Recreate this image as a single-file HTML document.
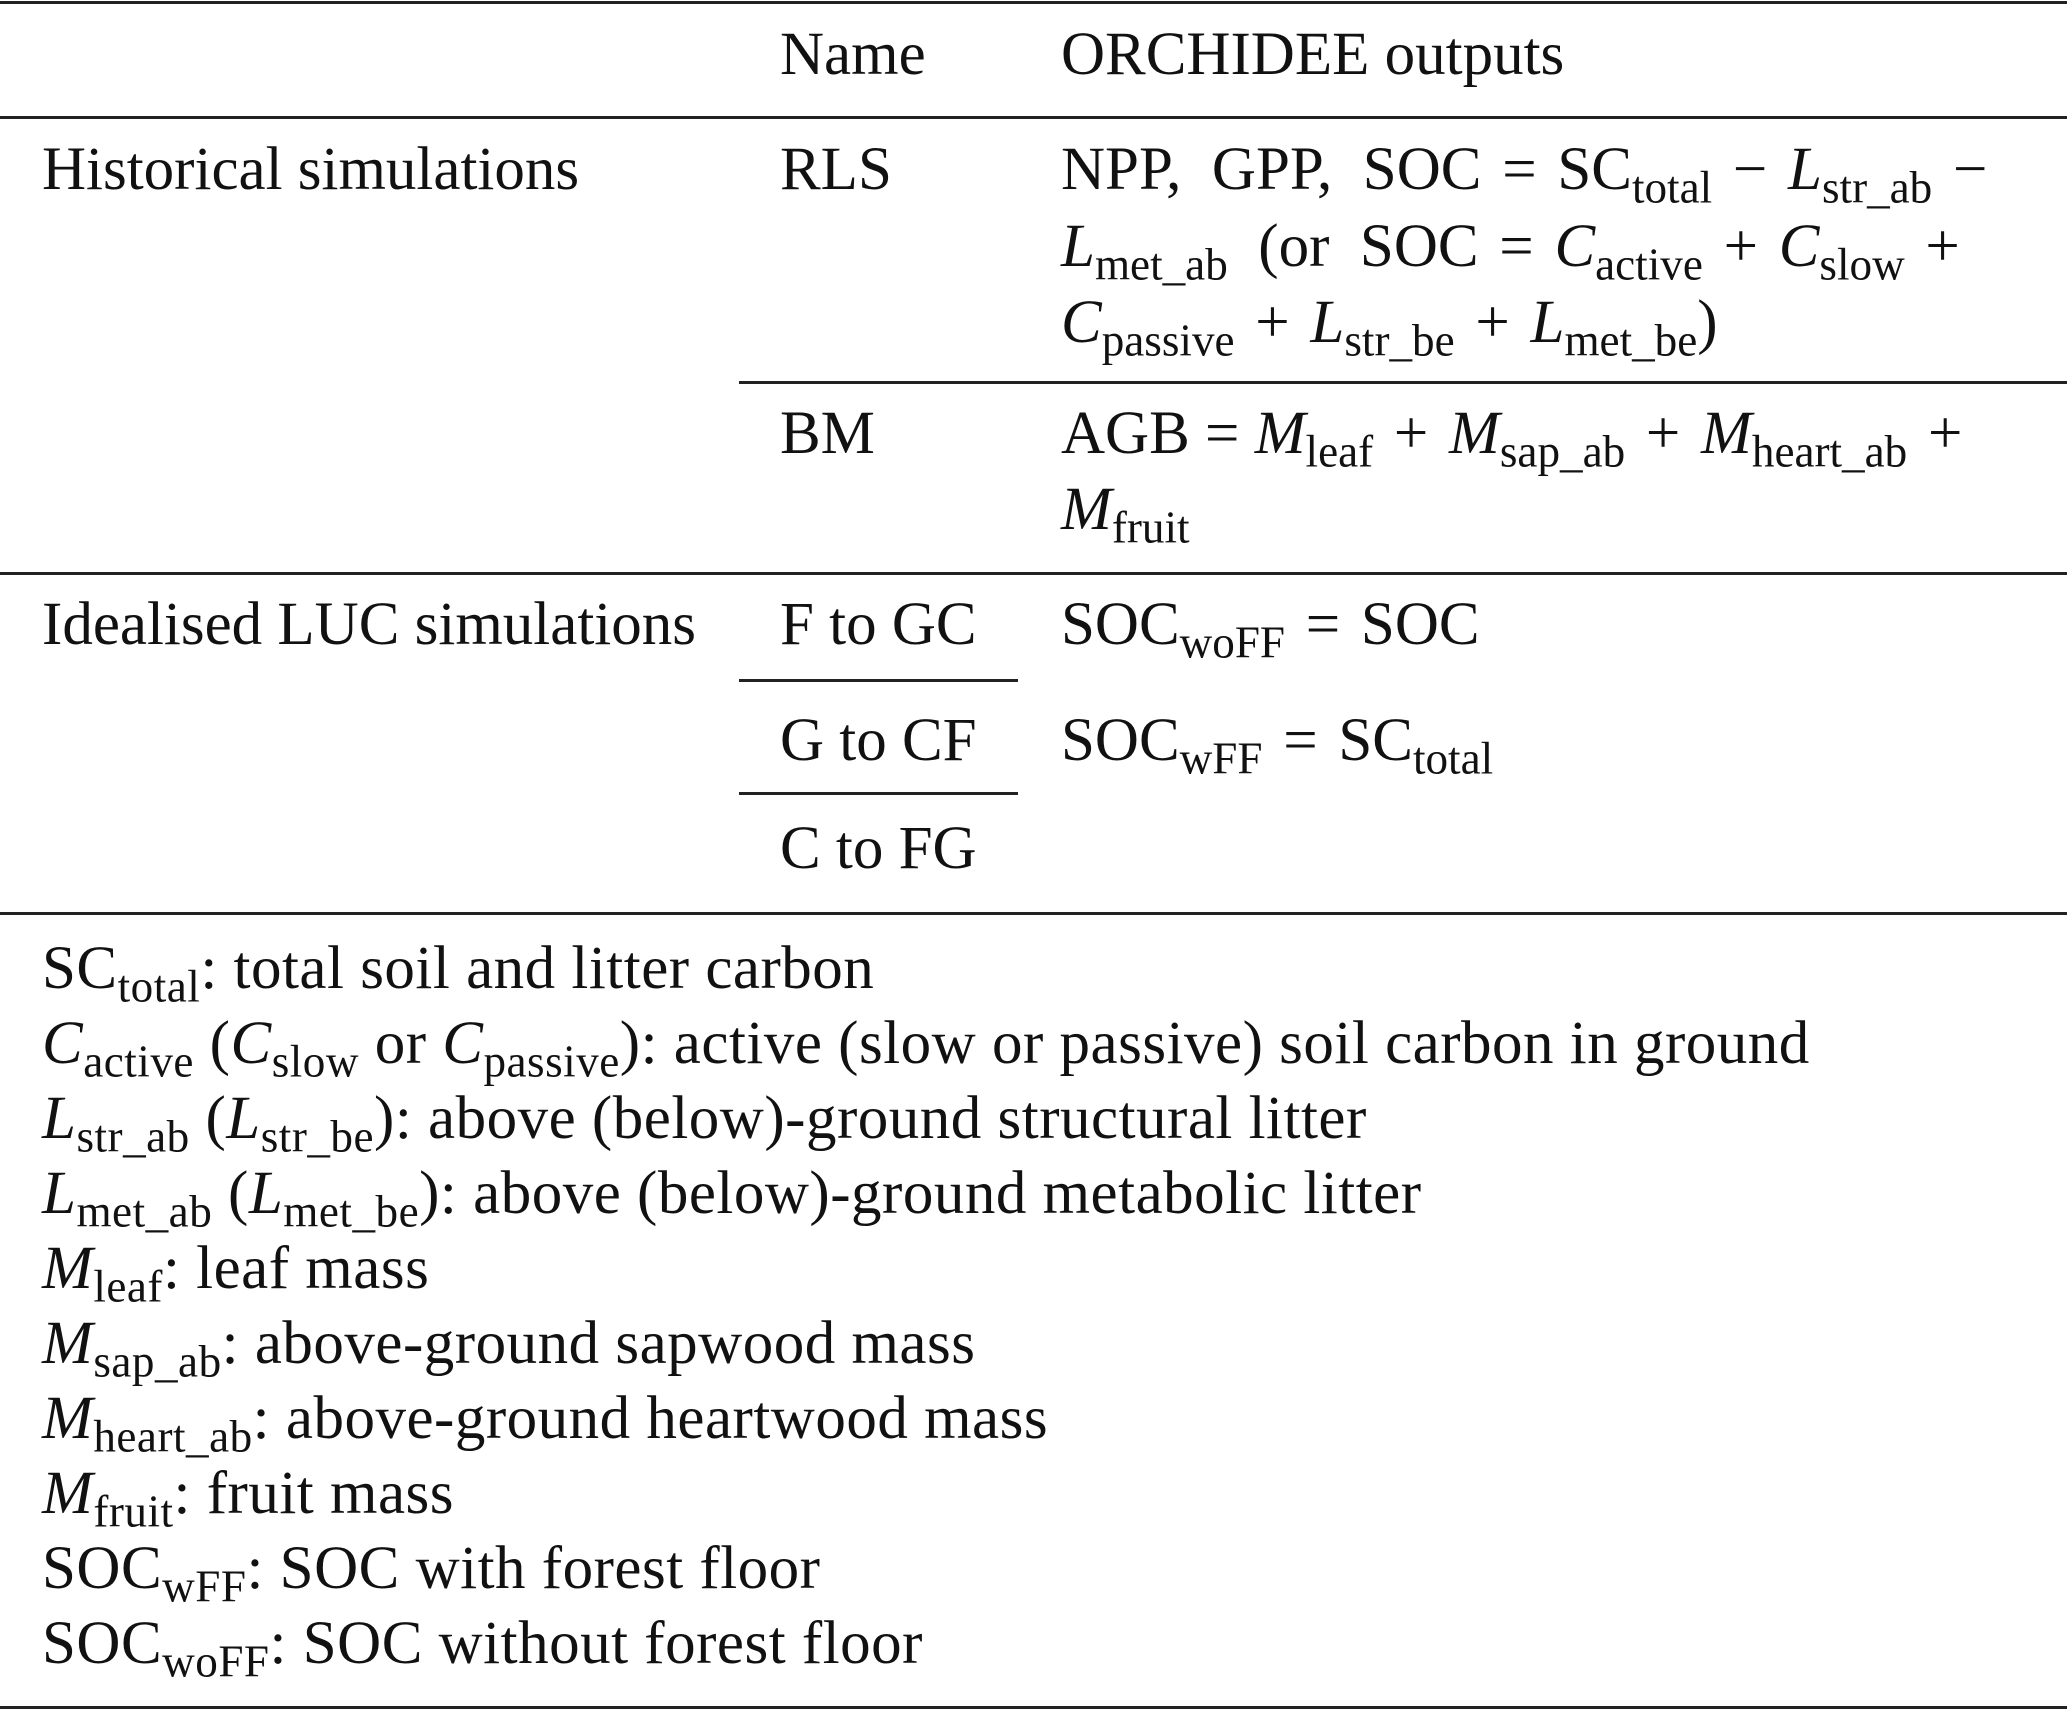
<!DOCTYPE html>
<html><head><meta charset="utf-8"><style>
html,body{margin:0;padding:0;background:#fff;}
body{width:2067px;height:1710px;position:relative;overflow:hidden;font-family:"Liberation Serif",serif;font-size:61px;color:#111;}
.l{position:absolute;white-space:nowrap;line-height:1;}
.f{letter-spacing:0.5px;}
.h{position:absolute;background:#222;height:3px;}
sub{font-size:0.74em;vertical-align:-0.3em;line-height:0;}
i{font-style:italic;}
.o{margin:0 0.34em;}
</style></head><body>
<div class="h" style="left:0;top:1px;width:2067px"></div>
<div class="h" style="left:0;top:116px;width:2067px"></div>
<div class="h" style="left:739px;top:381px;width:1328px"></div>
<div class="h" style="left:0;top:572px;width:2067px"></div>
<div class="h" style="left:739px;top:679px;width:279px"></div>
<div class="h" style="left:739px;top:792px;width:279px"></div>
<div class="h" style="left:0;top:912px;width:2067px"></div>
<div class="h" style="left:0;top:1706px;width:2067px"></div>

<div class="l" style="left:780px;top:24px">Name</div>
<div class="l" style="left:1061px;top:24px">ORCHIDEE outputs</div>

<div class="l" style="left:42px;top:139px">Historical simulations</div>
<div class="l" style="left:780px;top:139px">RLS</div>
<div class="l" style="left:1061px;top:139px">NPP,&nbsp; GPP,&nbsp; SOC<span class="o">=</span>SC<sub>total</sub><span class="o">−</span><i>L</i><sub>str_ab</sub><span class="o">−</span></div>
<div class="l" style="left:1061px;top:216px"><i>L</i><sub>met_ab</sub> &nbsp;(or &nbsp;SOC<span class="o">=</span><i>C</i><sub>active</sub><span class="o">+</span><i>C</i><sub>slow</sub><span class="o">+</span></div>
<div class="l" style="left:1061px;top:292px"><i>C</i><sub>passive</sub><span class="o">+</span><i>L</i><sub>str_be</sub><span class="o">+</span><i>L</i><sub>met_be</sub>)</div>

<div class="l" style="left:780px;top:403px">BM</div>
<div class="l" style="left:1061px;top:403px">AGB = <i>M</i><sub>leaf</sub><span class="o">+</span><i>M</i><sub>sap_ab</sub><span class="o">+</span><i>M</i><sub>heart_ab</sub><span class="o">+</span></div>
<div class="l" style="left:1061px;top:479px"><i>M</i><sub>fruit</sub></div>

<div class="l" style="left:42px;top:594px">Idealised LUC simulations</div>
<div class="l" style="left:780px;top:594px">F to GC</div>
<div class="l" style="left:1061px;top:594px">SOC<sub>woFF</sub><span class="o">=</span>SOC</div>
<div class="l" style="left:780px;top:710px">G to CF</div>
<div class="l" style="left:1061px;top:710px">SOC<sub>wFF</sub><span class="o">=</span>SC<sub>total</sub></div>
<div class="l" style="left:780px;top:818px">C to FG</div>

<div class="l f" style="left:42px;top:938px">SC<sub>total</sub>: total soil and litter carbon</div>
<div class="l f" style="left:42px;top:1013px"><i>C</i><sub>active</sub> (<i>C</i><sub>slow</sub> or <i>C</i><sub>passive</sub>): active (slow or passive) soil carbon in ground</div>
<div class="l f" style="left:42px;top:1088px"><i>L</i><sub>str_ab</sub> (<i>L</i><sub>str_be</sub>): above (below)-ground structural litter</div>
<div class="l f" style="left:42px;top:1163px"><i>L</i><sub>met_ab</sub> (<i>L</i><sub>met_be</sub>): above (below)-ground metabolic litter</div>
<div class="l f" style="left:42px;top:1238px"><i>M</i><sub>leaf</sub>: leaf mass</div>
<div class="l f" style="left:42px;top:1313px"><i>M</i><sub>sap_ab</sub>: above-ground sapwood mass</div>
<div class="l f" style="left:42px;top:1388px"><i>M</i><sub>heart_ab</sub>: above-ground heartwood mass</div>
<div class="l f" style="left:42px;top:1463px"><i>M</i><sub>fruit</sub>: fruit mass</div>
<div class="l f" style="left:42px;top:1538px">SOC<sub>wFF</sub>: SOC with forest floor</div>
<div class="l f" style="left:42px;top:1613px">SOC<sub>woFF</sub>: SOC without forest floor</div>
</body></html>
